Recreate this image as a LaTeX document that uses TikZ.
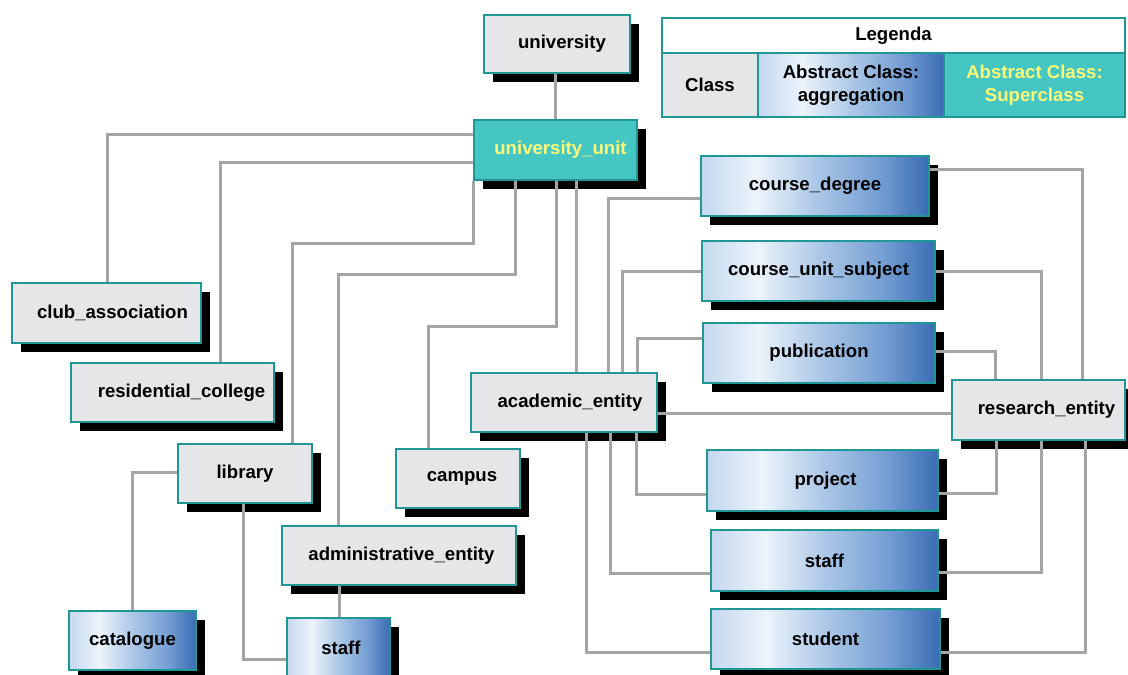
\documentclass[tikz,border=0pt]{standalone}
\usepackage{fontspec}
\setmainfont{Liberation Sans}
\usetikzlibrary{shadows}
\definecolor{teal1}{RGB}{32,150,150}
\definecolor{clsfill}{RGB}{228,230,232}
\definecolor{supfill}{RGB}{70,198,194}
\definecolor{suptext}{RGB}{250,250,120}
\definecolor{linegray}{RGB}{165,165,165}
\definecolor{ag0}{RGB}{196,216,238}
\definecolor{ag1}{RGB}{236,243,251}
\definecolor{ag2}{RGB}{172,200,231}
\definecolor{ag3}{RGB}{116,158,211}
\definecolor{ag4}{RGB}{58,108,180}
\pgfdeclarehorizontalshading{aggshade}{100bp}{color(0bp)=(ag0); color(25bp)=(ag0); color(37bp)=(ag1); color(50bp)=(ag2); color(64bp)=(ag3); color(75bp)=(ag4); color(100bp)=(ag4)}
\tikzset{
 txt/.style={font=\bfseries\fontsize{18.6}{23}\selectfont},
 box/.style={txt, draw=teal1, line width=1.3pt, inner sep=0pt,
   drop shadow={shadow xshift=9pt, shadow yshift=-9pt, fill=black, opacity=1}},
 cls/.style={box, fill=clsfill},
 agg/.style={box, shading=aggshade},
 sup/.style={box, fill=supfill, text=suptext},
 legcell/.style={txt, draw=teal1, line width=1.3pt, inner sep=0pt, align=center},
 conn/.style={draw=linegray, line width=3pt},
 sh/.style={execute at begin node={\hspace*{#1}}},
}
\begin{document}
\begin{tikzpicture}[x=1pt,y=-1pt]
\useasboundingbox[fill=white] (0,0) rectangle (1128,675);

% legend
\node[legcell, fill=white, minimum width=463pt, minimum height=35pt] (legtitle) at (893.5,35.5) {Legenda};
\node[legcell, fill=clsfill, minimum width=96pt, minimum height=64pt] (legclass) at (710,85) {Class};
\node[legcell, shading=aggshade, minimum width=186pt, minimum height=64pt] (legagg) at (851,85) {Abstract Class:\\aggregation};
\node[legcell, fill=supfill, text=suptext, minimum width=181pt, minimum height=64pt] (legsup) at (1034.5,85) {Abstract Class:\\Superclass};

% nodes
\node[cls, sh=10pt, minimum width=146pt, minimum height=58pt] (univ) at (557,44) {university};
\node[sup, sh=10pt, minimum width=163pt, minimum height=60pt] (unit) at (555.5,150) {university\_unit};
\node[cls, sh=12pt, minimum width=189pt, minimum height=60pt] (club) at (106.5,313) {club\_association};
\node[cls, sh=18pt, minimum width=203pt, minimum height=59pt] (resc) at (172.5,392.5) {residential\_college};
\node[cls, minimum width=134pt, minimum height=59pt] (lib) at (245,473.5) {library};
\node[agg, minimum width=127pt, minimum height=59pt] (cat) at (132.5,640.5) {catalogue};
\node[agg, sh=5pt, minimum width=103pt, minimum height=59pt] (staffL) at (338.5,647.5) {staff};
\node[cls, sh=5pt, minimum width=234pt, minimum height=59pt] (admin) at (399,555.5) {administrative\_entity};
\node[cls, sh=8pt, minimum width=124pt, minimum height=59pt] (campus) at (458,478.5) {campus};
\node[cls, sh=12pt, minimum width=186pt, minimum height=59pt] (acad) at (564,402.5) {academic\_entity};
\node[cls, sh=16pt, minimum width=173pt, minimum height=60pt] (rese) at (1038.5,410) {research\_entity};
\node[agg, minimum width=228pt, minimum height=60pt] (cdeg) at (815,186) {course\_degree};
\node[agg, minimum width=233pt, minimum height=60pt] (cus) at (818.5,271) {course\_unit\_subject};
\node[agg, minimum width=232pt, minimum height=60pt] (pub) at (819,353) {publication};
\node[agg, sh=6pt, minimum width=231pt, minimum height=61pt] (proj) at (822.5,480.5) {project};
\node[agg, minimum width=227pt, minimum height=61pt] (staffR) at (824.5,560.5) {staff};
\node[agg, minimum width=229pt, minimum height=60pt] (student) at (825.5,639) {student};

% connectors
\draw[conn] (univ.south -| unit.north) -- (unit.north);
\draw[conn] (unit.west |- 0,134) -| (club.north -| 107,0);
\draw[conn] (unit.west |- 0,162) -| (resc.north -| 220,0);
\draw[conn] (unit.south west) |- (292,243) -- (lib.north -| 292,0);
\draw[conn] (unit.south -| 515,0) |- (338,274) -- (admin.north -| 338,0);
\draw[conn] (unit.south -| 556,0) |- (428,326) -- (campus.north -| 428,0);
\draw[conn] (unit.south -| 576,0) -- (acad.north -| 576,0);
\draw[conn] (acad.north -| 608,0) |- (cdeg.west |- 0,198);
\draw[conn] (acad.north -| 622,0) |- (cus.west |- 0,271);
\draw[conn] (acad.north -| 637,0) |- (pub.west |- 0,338);
\draw[conn] (acad.east |- 0,413) -- (rese.west |- 0,413);
\draw[conn] (acad.south -| 636,0) |- (proj.west |- 0,494);
\draw[conn] (acad.south -| 610,0) |- (staffR.west |- 0,573);
\draw[conn] (acad.south -| 586,0) |- (student.west |- 0,652);
\draw[conn] (rese.north -| 1082,0) |- (cdeg.east |- 0,169);
\draw[conn] (rese.north -| 1041,0) |- (cus.east |- 0,271);
\draw[conn] (rese.north -| 995,0) |- (pub.east |- 0,351);
\draw[conn] (rese.south -| 996,0) |- (proj.east |- 0,493);
\draw[conn] (rese.south -| 1041,0) |- (staffR.east |- 0,572);
\draw[conn] (rese.south -| 1085,0) |- (student.east |- 0,652);
\draw[conn] (lib.west |- 0,472) -| (cat.north -| 132,0);
\draw[conn] (lib.south -| 243,0) |- (staffL.west |- 0,659);
\draw[conn] (admin.south -| 339,0) -- (staffL.north -| 339,0);
\end{tikzpicture}
\end{document}
